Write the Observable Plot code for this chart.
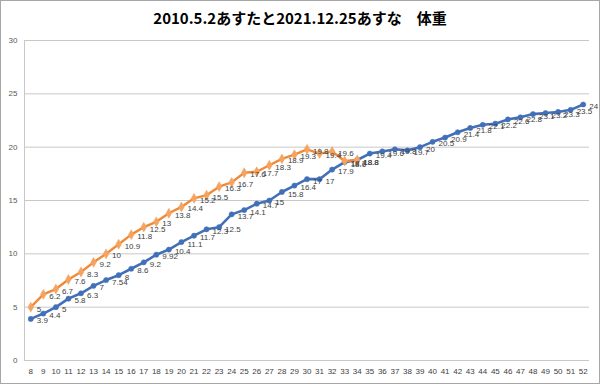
<!DOCTYPE html>
<html><head><meta charset="utf-8">
<script src="https://cdn.jsdelivr.net/npm/d3@7"></script>
<script src="https://cdn.jsdelivr.net/npm/@observablehq/plot@0.6"></script>
<style>
body{margin:0;background:#fff;}
#chart{position:relative;width:600px;height:384px;box-sizing:border-box;border:1px solid #a6a6a6;overflow:hidden;background:#fff;}
#title{position:absolute;top:6px;left:0;width:100%;text-align:center;font:bold 15px "Noto Sans CJK JP",sans-serif;color:#000;white-space:nowrap;}
#chart svg{position:absolute;left:0;top:0;}
</style></head><body>
<div id="chart"><div id="title">2010.5.2あすたと2021.12.25あすな　体重</div></div>
<script>
const weeks = [8,9,10,11,12,13,14,15,16,17,18,19,20,21,22,23,24,25,26,27,28,29,30,31,32,33,34,35,36,37,38,39,40,41,42,43,44,45,46,47,48,49,50,51,52];
const blueWeight = [3.9,4.4,5,5.8,6.3,7,7.54,8,8.6,9.2,9.92,10.4,11.1,11.7,12.3,12.5,13.7,14.1,14.7,15,15.8,16.4,17,17,17.9,18.6,18.8,19.4,19.6,19.8,19.7,20,20.5,20.9,21.4,21.8,22.1,22.2,22.6,22.8,23.1,23.2,23.3,23.5,24];
const orangeWeeks = [8,9,10,11,12,13,14,15,16,17,18,19,20,21,22,23,24,25,26,27,28,29,30,31,32,33,34];
const orangeWeight = [5,6.2,6.7,7.6,8.3,9.2,10,10.9,11.8,12.5,13,13.8,14.4,15.2,15.5,16.3,16.7,17.6,17.7,18.3,18.9,19.3,19.8,19.4,19.6,18.7,18.8];
const yTicks = [0,5,10,15,20,25,30];

const blueColor = "#4270B8";
const orangeColor = "#F08A36";

const blue = weeks.map((w,i)=>({w, v: blueWeight[i]}));
const orange = orangeWeeks.map((w,i)=>({w, v: orangeWeight[i]}));

const labelOpts = {x:"w", y:"v", text: d=>String(d.v), dx:6, dy:2, textAnchor:"start", fontSize:8, fill:"#404040"};

const chart = Plot.plot({
  width: 598,
  height: 382,
  marginLeft: 23,
  marginRight: 10,
  marginTop: 39,
  marginBottom: 23,
  style: {fontFamily: "'Liberation Sans', Arial, sans-serif", background: "transparent", color: "#595959"},
  x: {type: "linear", domain: [7.5, 52.5]},
  y: {domain: [0, 30]},
  marks: [
    Plot.gridY(yTicks, {stroke: "#c8c8c8", strokeOpacity: 1, strokeWidth: 1}),
    Plot.ruleX([7.5], {y1: 0, y2: 30, stroke: "#c8c8c8", strokeWidth: 1}),
    Plot.axisY(yTicks, {tickSize: 0, tickPadding: 7, fontSize: 8, fill: "#595959", label: null}),
    Plot.axisX(weeks, {tickSize: 0, tickPadding: 8, fontSize: 8, fill: "#404040", label: null, tickFormat: d => String(d)}),
    Plot.line(blue, {x: "w", y: "v", stroke: blueColor, strokeWidth: 2.6}),
    Plot.dot(blue, {x: "w", y: "v", r: 2.6, fill: blueColor, stroke: blueColor, strokeWidth: 0.5}),
    Plot.line(orange, {x: "w", y: "v", stroke: orangeColor, strokeWidth: 2.4}),
    Plot.dot(orange, {x: "w", y: "v", r: 3, symbol: "diamond", fill: "#F4A460", stroke: "#F4A460", strokeWidth: 0.5}),
    Plot.text(blue, labelOpts),
    Plot.text(orange, labelOpts)
  ]
});
document.getElementById("chart").appendChild(chart);
</script>
</body></html>
